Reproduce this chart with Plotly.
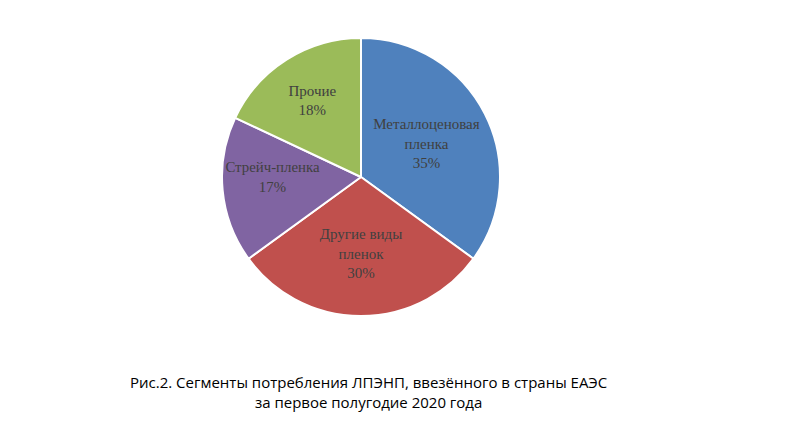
import plotly.graph_objects as go

segments = ["Металлоценовая<br>пленка", "Другие виды<br>пленок", "Стрейч-пленка", "Прочие"]
shares = [35, 30, 17, 18]
colors = ["#4F81BD", "#C0504D", "#8064A2", "#9BBB59"]

caption = ("Рис.2. Сегменты потребления ЛПЭНП, ввезённого в страны ЕАЭС<br>"
           "за первое полугодие 2020 года")

fig = go.Figure(go.Pie(
    labels=segments,
    values=shares,
    sort=False,
    direction="clockwise",
    rotation=0,
    marker=dict(colors=colors, line=dict(color="white", width=2)),
    texttemplate="%{label}<br>%{percent:.0%}",
    textposition="inside",
    insidetextorientation="horizontal",
    textfont=dict(family="Liberation Serif", size=15, color="#404040"),
    domain=dict(x=[0.2675, 0.615], y=[0.2753, 0.9294]),
    hoverinfo="label+percent",
))

fig.add_annotation(
    text=caption, x=0.451, y=0.045, xref="paper", yref="paper",
    xanchor="center", yanchor="bottom", showarrow=False,
    font=dict(family="Open Sans", size=15, color="black"),
)

fig.update_layout(
    width=800, height=425,
    showlegend=False,
    paper_bgcolor="white",
    margin=dict(l=0, r=0, t=0, b=0),
)

fig.write_html("out.html")
